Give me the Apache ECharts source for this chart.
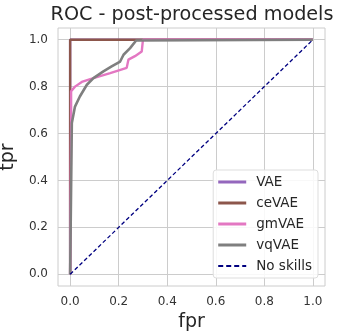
<!DOCTYPE html>
<html>
<head>
<meta charset="utf-8">
<script src="https://cdn.jsdelivr.net/npm/echarts@6/dist/echarts.min.js"></script>
<style>
  html, body { margin: 0; padding: 0; background: #fff; }
  #chart { width: 338px; height: 335px; }
</style>
</head>
<body>
<div id="chart"></div>
<script>
// ROC curves: [fpr, tpr]
const vaeRoc = [[0, 0], [0, 1], [1, 1]];
const ceVaeRoc = [[0, 0], [0, 1], [1, 1]];
const gmVaeRoc = [
  [0, 0], [0.004, 0.645], [0.004, 0.78], [0.02, 0.80], [0.048, 0.82],
  [0.096, 0.836], [0.165, 0.858], [0.233, 0.88], [0.24, 0.915],
  [0.267, 0.93], [0.295, 0.95], [0.299, 0.99], [0.3, 1], [1, 1]
];
const vqVaeRoc = [
  [0, 0], [0.007, 0.645], [0.02, 0.715], [0.04, 0.758], [0.069, 0.808],
  [0.096, 0.836], [0.137, 0.865], [0.171, 0.886], [0.206, 0.907],
  [0.22, 0.936], [0.247, 0.964], [0.272, 0.997], [0.28, 1], [1, 1]
];
const noSkills = [[0, 0], [1, 1]];
const tickValues = [0, 0.2, 0.4, 0.6, 0.8, 1.0];

const chart = echarts.init(document.getElementById('chart'));
const font = 'DejaVu Sans';

const axisCommon = {
  type: 'value',
  min: -0.05,
  max: 1.05,
  axisLine: { show: false },
  axisTick: { show: false, customValues: tickValues },
  axisLabel: {
    customValues: tickValues, margin: 10,
    color: '#333333', fontSize: 12, fontFamily: font,
    formatter: v => v.toFixed(1)
  },
  splitLine: { show: true, lineStyle: { color: '#cccccc', width: 1 } },
  nameLocation: 'middle',
  nameTextStyle: { color: '#262626', fontSize: 19, fontFamily: font }
};

const line = (name, data, color, width, extra) => Object.assign({
  name, type: 'line', data, showSymbol: false, symbol: 'none',
  lineStyle: { color, width }, itemStyle: { color }, animation: false
}, extra || {});

const solidIcon = 'path://M0,0H28V3H0Z';
const dashIcon = 'path://M0,0H5V2H0Z M8,0H13V2H8Z M16,0H21V2H16Z M24,0H28V2H24Z';

chart.setOption({
  animation: false,
  title: {
    text: 'ROC - post-processed models', left: 187, top: 1, textAlign: 'center',
    textStyle: { color: '#262626', fontSize: 19.2, fontWeight: 'normal', fontFamily: font }
  },
  grid: {
    left: 58, right: 13, top: 28, bottom: 49, outerBoundsMode: 'none',
    show: true, borderColor: '#cccccc', borderWidth: 1
  },
  xAxis: Object.assign({}, axisCommon, { name: 'fpr', nameGap: 27 }),
  yAxis: Object.assign({}, axisCommon, { name: 'tpr', nameGap: 37, nameRotate: 90 }),
  legend: {
    orient: 'vertical', right: 20, top: 170,
    itemWidth: 28, itemHeight: 3, itemGap: 5,
    backgroundColor: 'rgba(255,255,255,0.85)', borderColor: '#dddddd', borderWidth: 1, borderRadius: 3,
    padding: [4, 6, 4, 5],
    textStyle: { color: '#262626', fontSize: 13.5, fontFamily: font, padding: [0, 0, 0, 5], lineHeight: 16 },
    data: [
      { name: 'VAE', icon: solidIcon },
      { name: 'ceVAE', icon: solidIcon },
      { name: 'gmVAE', icon: solidIcon },
      { name: 'vqVAE', icon: solidIcon },
      { name: 'No skills', icon: dashIcon, itemStyle: { color: '#000080' } }
    ]
  },
  series: [
    line('VAE', vaeRoc, '#9467bd', 2.4),
    line('ceVAE', ceVaeRoc, '#8c564b', 2.4),
    line('gmVAE', gmVaeRoc, '#e377c2', 2.4),
    line('vqVAE', vqVaeRoc, '#7f7f7f', 2.6),
    line('No skills', noSkills, '#000080', 1.3, { lineStyle: { color: '#000080', width: 1.3, type: [4, 2.5] } })
  ]
});
</script>
</body>
</html>
